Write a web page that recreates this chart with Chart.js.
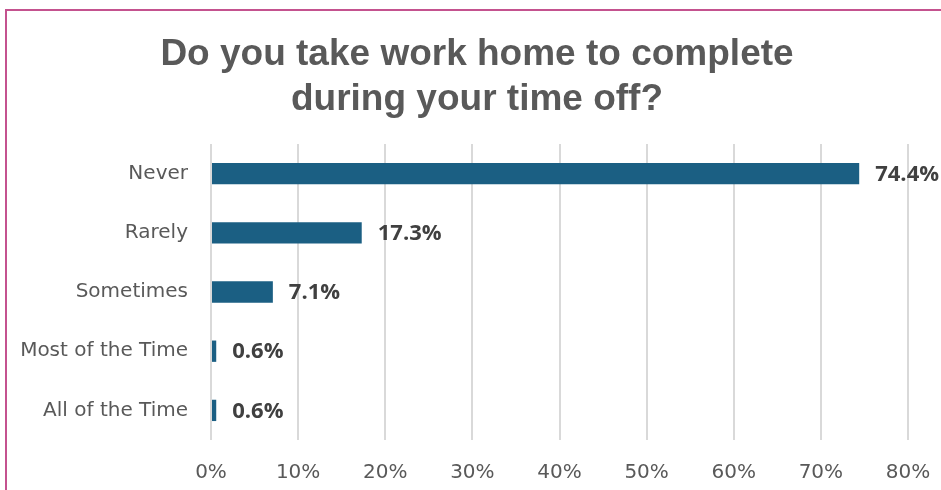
<!DOCTYPE html>
<html>
<head>
<meta charset="utf-8">
<script src="https://cdn.jsdelivr.net/npm/chart.js@4"></script>
<style>
  html, body { margin: 0; padding: 0; background: #fff; overflow: hidden; }
  #frame {
    position: absolute; left: 5px; top: 9px; width: 1000px; height: 600px;
    border-top: 2px solid #c4528f; border-left: 2px solid #c4528f;
  }
  #wrap { position: absolute; left: 0; top: 0; width: 941px; height: 490px; }
</style>
</head>
<body>
<div id="frame"></div>
<div id="wrap"><canvas id="timeOffChart" width="941" height="490"></canvas></div>
<script>
const answers = ['Never', 'Rarely', 'Sometimes', 'Most of the Time', 'All of the Time'];
const shares = [74.4, 17.3, 7.1, 0.6, 0.6];
const xTicks = [0, 10, 20, 30, 40, 50, 60, 70, 80];

// writes the percentage just past the end of each bar
const valueLabels = {
  id: 'valueLabels',
  afterLayout(chart) {
    // long category names may run past the padded edge, so don't clip them
    chart.scales.y.left = 0;
  },
  afterDatasetsDraw(chart) {
    const c = chart.ctx;
    const meta = chart.getDatasetMeta(0);
    c.save();
    c.font = 'bold 22px "Open Sans", sans-serif';
    c.fillStyle = '#404040';
    c.textAlign = 'left';
    c.textBaseline = 'middle';
    meta.data.forEach((bar, i) => {
      c.fillText(shares[i].toFixed(1) + '%', bar.x + 16, bar.y + 1);
    });
    c.restore();
  }
};

const ctx = document.getElementById('timeOffChart').getContext('2d');
const timeOffChart = new Chart(ctx, {
  type: 'bar',
  data: {
    labels: answers,
    datasets: [{
      data: shares,
      backgroundColor: '#1b5f83',
      borderWidth: 0,
      barPercentage: 0.72,
      categoryPercentage: 0.5
    }]
  },
  options: {
    indexAxis: 'y',
    responsive: false,
    animation: false,
    layout: { padding: { left: 46, right: 33, top: 0, bottom: 0 } },
    plugins: {
      legend: { display: false },
      tooltip: { enabled: false },
      title: {
        display: true,
        text: ['Do you take work home to complete', 'during your time off?'],
        color: '#595959',
        font: { family: '"Liberation Sans", Arial, sans-serif', size: 37, weight: 'bold', lineHeight: 1.216 },
        padding: { top: 32, bottom: 22 }
      }
    },
    scales: {
      x: {
        min: 0,
        max: 80,
        afterBuildTicks: scale => { scale.ticks = xTicks.map(v => ({ value: v })); },
        afterFit: scale => {
          scale.height = 50;
          scale.paddingLeft = 0;
          scale.paddingRight = 0;
        },
        border: { display: false },
        grid: { color: '#d9d9d9', lineWidth: 2, drawTicks: false },
        ticks: {
          padding: 21,
          maxRotation: 0,
          color: '#595959',
          font: { family: '"DejaVu Sans", sans-serif', size: 20 },
          callback: v => v + '%'
        }
      },
      y: {
        afterFit: scale => { scale.width = 165; },
        border: { display: false },
        grid: { display: false },
        ticks: {
          padding: 15,
          color: '#595959',
          font: { family: '"DejaVu Sans", sans-serif', size: 20 }
        }
      }
    }
  },
  plugins: [valueLabels]
});
</script>
</body>
</html>
